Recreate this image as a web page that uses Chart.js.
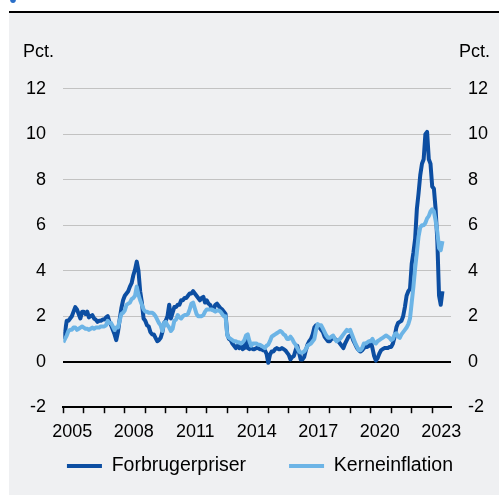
<!DOCTYPE html>
<html>
<head>
<meta charset="utf-8">
<script src="https://cdn.jsdelivr.net/npm/chart.js@4"></script>
<style>
  body { margin: 0; background: #fff; width: 499px; height: 496px; overflow: hidden; position: relative; }
  #dot { position: absolute; left: 10px; top: -5px; width: 6px; height: 8px; border-radius: 50%; background: #2a6fc9; }
  #rule { position: absolute; left: 9px; top: 11px; width: 490px; height: 2px; background: #000; }
  #panel { position: absolute; left: 9px; top: 13px; width: 490px; height: 482px; background: #eff0f2; }
  canvas { position: absolute; left: 0; top: 0; }
</style>
</head>
<body>
<div id="dot"></div>
<div id="rule"></div>
<div id="panel"><canvas id="myChart" width="490" height="482"></canvas></div>
<script>
'use strict';

// monthly values, Jan 2005 - Jul 2023
let startYear = 2005;
let seriesNames = ['Forbrugerpriser', 'Kerneinflation'];
let yearLabels = [2005, 2008, 2011, 2014, 2017, 2020, 2023];

let forbrugerpriser = [
  1.0, 1.3, 1.8, 1.8, 1.9, 2.0, 2.2, 2.4, 2.3, 2.1, 1.9, 2.2,
  2.2, 2.1, 2.2, 1.95, 2.0, 2.05, 1.9, 1.85, 1.75, 1.8, 1.8, 1.85,
  1.85, 1.95, 2.0, 1.75, 1.6, 1.4, 1.2, 0.95, 1.3, 1.85, 2.35, 2.7,
  2.9, 3.0, 3.1, 3.3, 3.45, 3.8, 4.05, 4.4, 4.0, 3.1, 2.6, 1.9,
  1.8, 1.6, 1.55, 1.3, 1.2, 1.2, 1.05, 0.9, 0.95, 1.05, 1.3, 1.7,
  1.8, 2.0, 2.5, 1.9, 2.15, 2.4, 2.4, 2.5, 2.5, 2.7, 2.7, 2.8,
  2.8, 2.9, 3.0, 3.0, 3.1, 3.0, 2.9, 2.8, 2.7, 2.8, 2.85, 2.6,
  2.7, 2.55, 2.5, 2.3, 2.3, 2.5, 2.55, 2.45, 2.35, 2.3, 2.2, 2.1,
  1.2, 1.0, 0.95, 0.8, 0.7, 0.6, 0.7, 0.6, 0.7, 0.55, 0.6, 1.0,
  0.6, 0.55, 0.6, 0.55, 0.55, 0.6, 0.6, 0.55, 0.55, 0.5, 0.5, 0.35,
  -0.05, 0.3, 0.45, 0.45, 0.55, 0.6, 0.55, 0.55, 0.6, 0.55, 0.5, 0.4,
  0.3, 0.1, 0.2, 0.25, 0.5, 0.7, 0.4, 0.1, 0.1, 0.2, 0.5, 0.75,
  0.9, 1.0, 1.2, 1.5, 1.6, 1.6, 1.5, 1.4, 1.3, 1.1, 1.0, 0.9,
  0.9, 1.0, 1.1, 1.0, 0.95, 0.9, 0.8, 0.7, 0.6, 0.8, 0.95, 1.1,
  1.15, 1.1, 0.9, 0.75, 0.6, 0.5, 0.45, 0.5, 0.6, 0.65, 0.65, 0.7,
  0.9, 0.6, 0.25, 0.05, 0.15, 0.35, 0.5, 0.55, 0.6, 0.6, 0.6, 0.65,
  0.65, 0.8, 1.1, 1.5, 1.7, 1.75, 1.8, 2.0, 2.4, 2.9, 3.1, 3.2,
  4.3, 4.8, 5.4, 6.7, 7.4, 8.2, 8.7, 8.9, 10.0, 10.1, 8.9, 8.7,
  7.7, 7.6, 6.7, 5.3, 2.9, 2.5, 3.1
];

let kerneinflation = [
  0.85, 1.0, 1.15, 1.35, 1.4, 1.4, 1.5, 1.5, 1.4, 1.45, 1.5, 1.55,
  1.5, 1.45, 1.45, 1.4, 1.45, 1.5, 1.45, 1.5, 1.5, 1.5, 1.55, 1.55,
  1.55, 1.6, 1.8, 1.7, 1.7, 1.55, 1.4, 1.5, 1.5, 1.8, 2.1, 2.15,
  2.25, 2.5, 2.55, 2.6, 2.75, 2.8, 2.9, 3.3, 2.95, 2.7, 2.5, 2.3,
  2.2, 2.2, 2.15, 2.15, 2.15, 2.1, 2.0, 1.85, 1.7, 1.6, 1.35, 1.7,
  1.75, 1.6, 1.5, 1.35, 1.45, 1.8, 1.85, 2.05, 1.95, 1.9, 2.0, 2.05,
  2.05, 2.1, 2.3, 2.55, 2.6, 2.35, 2.1, 2.0, 2.0, 2.0, 2.05, 2.2,
  2.3, 2.3, 2.3, 2.3, 2.25, 2.2, 2.25, 2.25, 2.2, 2.1, 2.0, 2.0,
  1.15, 1.05, 1.0, 0.95, 0.9, 0.9, 0.85, 0.85, 0.8, 0.85, 0.95, 1.15,
  1.2, 0.9, 0.7, 0.8, 0.8, 0.8, 0.75, 0.75, 0.7, 0.65, 0.6, 0.7,
  0.75, 0.9, 1.1, 1.15, 1.2, 1.25, 1.3, 1.35, 1.3, 1.2, 1.15, 1.0,
  1.0, 1.1, 1.0, 0.85, 0.75, 0.6, 0.45, 0.4, 0.4, 0.45, 0.55, 0.7,
  0.75, 0.8, 0.9, 1.0, 1.4, 1.65, 1.6, 1.6, 1.45, 1.3, 1.15, 1.05,
  1.05, 1.1, 1.15, 1.0, 0.9, 0.95, 1.0, 1.1, 1.2, 1.3, 1.4, 1.35,
  1.4, 1.2, 1.0, 0.8, 0.65, 0.5, 0.5, 0.6, 0.8, 0.8, 0.85, 0.9,
  0.9, 1.0, 0.85, 0.8, 0.9, 0.95, 1.0, 1.05, 1.1, 1.15, 1.1, 1.05,
  0.95, 1.0, 1.2, 1.25, 1.1, 1.05, 1.2, 1.3, 1.4, 1.5, 1.65, 1.9,
  2.6, 3.3, 4.1, 4.8, 5.5, 5.9, 6.0, 6.0, 6.1, 6.3, 6.4, 6.6,
  6.7, 6.6, 6.2, 5.7, 5.0, 4.9, 5.3
];

let yTicks = [-2, 0, 2, 4, 6, 8, 10, 12];

let darkBlue = '#0c4ea2';
let lightBlue = '#6cb4e6';
let fontFamily = '"Liberation Sans", Arial, sans-serif';

// turn a month index into a decimal year for the linear x axis
function toPoints(values) {
  return values.map((v, i) => ({ x: startYear + i / 12, y: v }));
}

let yearTicks = [];
for (let y = startYear; y <= 2023; y++) {
  yearTicks.push(y);
}

// "Pct." labels above both axes
let pctPlugin = {
  id: 'pct',
  afterDraw(chart) {
    let ctx = chart.ctx;
    ctx.save();
    ctx.font = '18px ' + fontFamily;
    ctx.fillStyle = '#000';
    ctx.textBaseline = 'middle';
    ctx.textAlign = 'left';
    ctx.fillText('Pct.', 14, 39);
    ctx.textAlign = 'right';
    ctx.fillText('Pct.', 481, 39);
    ctx.restore();
  }
};

let chartObject = {
  type: 'line',
  data: {
    datasets: [{
      label: seriesNames[0],
      data: toPoints(forbrugerpriser),
      borderColor: darkBlue,
      backgroundColor: darkBlue,
      borderWidth: 4,
      pointRadius: 0,
      borderJoinStyle: 'round',
      order: 2
    },
    {
      label: seriesNames[1],
      data: toPoints(kerneinflation),
      borderColor: lightBlue,
      backgroundColor: lightBlue,
      borderWidth: 4,
      pointRadius: 0,
      borderJoinStyle: 'round',
      order: 1
    }]
  },
  options: {
    responsive: false,
    animation: false,
    layout: { padding: { left: 12, right: 0, top: 75.7, bottom: 9.3 } },
    plugins: {
      tooltip: { enabled: false },
      legend: {
        position: 'bottom',
        labels: {
          color: '#000',
          font: { family: fontFamily, size: 19.5 },
          boxWidth: 35,
          boxHeight: 4,
          padding: 43,
          sort: (a, b) => a.datasetIndex - b.datasetIndex,
          generateLabels(chart) {
            let items = Chart.defaults.plugins.legend.labels.generateLabels(chart);
            items.forEach(item => { item.lineWidth = 0; });
            return items;
          }
        }
      }
    },
    scales: {
      x: {
        type: 'linear',
        min: startYear,
        max: 2024 - 1 / 12,
        afterBuildTicks(axis) {
          axis.ticks = yearTicks.map(v => ({ value: v }));
        },
        afterFit(axis) {
          axis.height = 6;
        },
        border: { display: true, color: '#000', width: 2 },
        grid: { drawOnChartArea: false, drawTicks: true, tickLength: 6, tickColor: '#000', tickWidth: 1.5 },
        ticks: {
          autoSkip: false,
          maxRotation: 0,
          minRotation: 0,
          // mirror keeps the labels from being clipped to the short axis box
          mirror: true,
          padding: -35.6,
          labelOffset: 9,
          color: '#000',
          font: { family: fontFamily, size: 18 },
          callback: v => (yearLabels.includes(v) ? String(v) : '')
        }
      },
      y: {
        position: 'left',
        min: -2,
        max: 12,
        afterBuildTicks(axis) {
          axis.ticks = yTicks.map(v => ({ value: v }));
        },
        afterFit(axis) {
          axis.width = 42.3;
        },
        border: { display: false },
        grid: {
          drawTicks: false,
          color: c => (c.tick.value === 0 ? '#000' : (c.tick.value === -2 ? 'rgba(0,0,0,0)' : '#c2c2c2')),
          lineWidth: c => (c.tick.value === 0 ? 2 : 1)
        },
        ticks: { padding: 17.3, color: '#000', font: { family: fontFamily, size: 18 } }
      },
      y2: {
        position: 'right',
        min: -2,
        max: 12,
        afterBuildTicks(axis) {
          axis.ticks = yTicks.map(v => ({ value: v }));
        },
        afterFit(axis) {
          axis.width = 48;
        },
        border: { display: false },
        grid: { display: false, drawTicks: false },
        ticks: { padding: 17, color: '#000', font: { family: fontFamily, size: 18 } }
      }
    }
  },
  plugins: [pctPlugin]
};

let ctx = document.getElementById('myChart').getContext('2d');
let myChart = new Chart(ctx, chartObject);
</script>
</body>
</html>
